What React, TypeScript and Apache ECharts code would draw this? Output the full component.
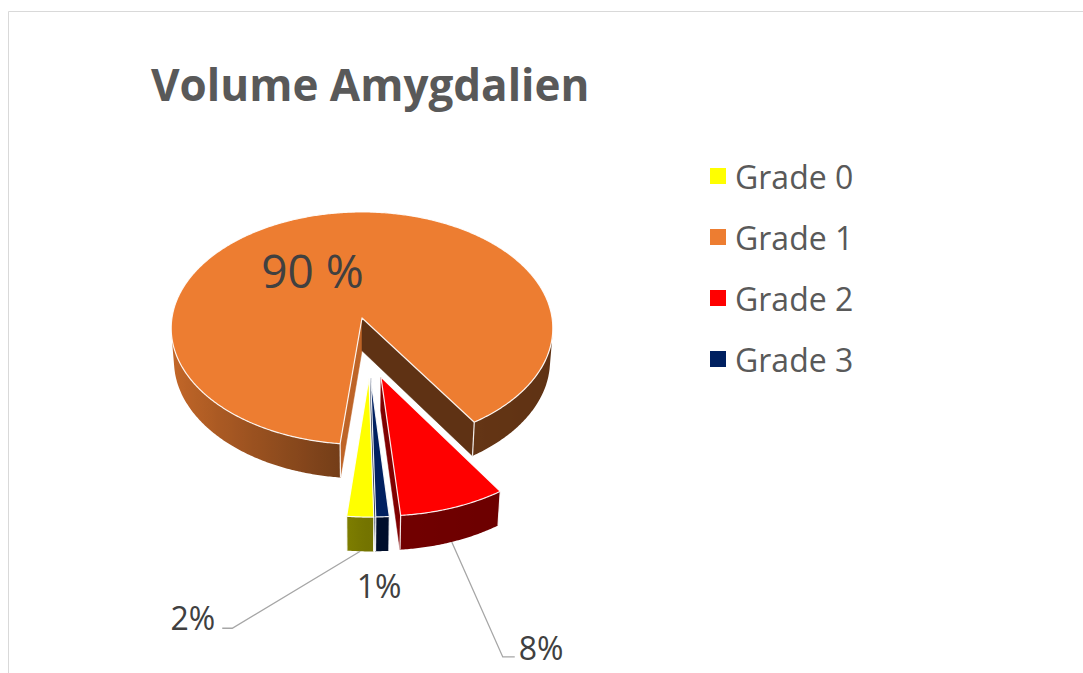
import React, { useEffect, useRef } from "react";
import * as echarts from "echarts";

// ---------- data ----------
const categories = ["Grade 0", "Grade 1", "Grade 2", "Grade 3"];
const values = [2, 90, 8, 1];
const valueLabels = ["2%", "90 %", "8%", "1%"];
const titleText = "Volume Amygdalien";

// ---------- style ----------
const topColors = ["#FFFF00", "#ED7D31", "#FF0000", "#002060"];
const drawOrder = [1, 2, 3, 0];

// 3-D view parameters (pie of unit radius, projected in perspective)
const CX = 362;
const CY = 318;
const FOCAL = 1722;
const DIST = 9.06;
const SIN_T = 0.607;
const COS_T = 0.795;
const THICK = 0.22;
const START_DEG = 88.9;
const explodeDist = [0.5, 0, 0.5, 0.5];
const explodeDirDeg = [86, 0, 79, 85];
const cutShade = [
  [0.5, 0.5],
  [0.8, 0.4],
  [0.5, 0.5],
  [0.5, 0.5],
];

type LabelCfg = {
  mode: "inside" | "outside";
  r?: number;
  deg?: number;
  dx?: number;
  dy?: number;
  align: string;
  size: number;
  leader?: number[][];
};
const labelCfg: LabelCfg[] = [
  { mode: "outside", dx: -145, dy: 66, align: "right", size: 32, leader: [[-128, 77], [-138, 77]] },
  { mode: "inside", r: 0.51, deg: 238, align: "center", size: 46 },
  { mode: "outside", dx: 67, dy: 106, align: "left", size: 32, leader: [[51, 115], [63, 115]] },
  { mode: "outside", dx: -3, dy: 34, align: "center", size: 32 },
];

const RAD = Math.PI / 180;

function proj(X: number, Y: number, Z: number): number[] {
  const z = DIST - (Z * COS_T + Y * SIN_T);
  return [CX + (FOCAL * X) / z, CY - (FOCAL * (Y * COS_T - Z * SIN_T)) / z];
}

function shade(hex: string, k: number): string {
  const n = parseInt(hex.slice(1), 16);
  const r = Math.min(255, Math.round(((n >> 16) & 255) * k));
  const g = Math.min(255, Math.round(((n >> 8) & 255) * k));
  const b = Math.min(255, Math.round((n & 255) * k));
  return `rgb(${r},${g},${b})`;
}

function wallShade(t: number): number {
  const c = Math.cos(t);
  return c < 0 ? 0.45 + 0.38 * -c : 0.45 - 0.05 * c;
}

function makeRenderItem(i: number) {
  return (_params: any, api: any) => {
    const total = values.reduce((s, v) => s + v, 0);
    const before = values.slice(0, i).reduce((s, v) => s + v, 0);
    const own = api.value(0) as number;
    const a0 = START_DEG + (360 * before) / total;
    const a1 = a0 + (360 * own) / total;
    const t0 = a0 * RAD;
    const t1 = a1 * RAD;
    const ed = explodeDirDeg[i] * RAD;
    const ox = explodeDist[i] * Math.cos(ed);
    const oz = explodeDist[i] * Math.sin(ed);
    const color = topColors[i];
    const rim = (t: number, Y: number) => proj(ox + Math.cos(t), Y, oz + Math.sin(t));
    const ctr = (Y: number) => proj(ox, Y, oz);
    const camDot = (nx: number, nz: number, px: number, pz: number) =>
      nx * (0 - px) + nz * (DIST * COS_T - pz);

    const children: any[] = [];
    const edge = "rgba(255,255,255,0.9)";

    // cut faces
    const faces = [
      { t: t0, nx: Math.sin(t0), nz: -Math.cos(t0), k: cutShade[i][0] },
      { t: t1, nx: -Math.sin(t1), nz: Math.cos(t1), k: cutShade[i][1] },
    ];
    faces.forEach((f) => {
      const px = ox + 0.5 * Math.cos(f.t);
      const pz = oz + 0.5 * Math.sin(f.t);
      if (camDot(f.nx, f.nz, px, pz) > 0) {
        children.push({
          type: "polygon",
          shape: { points: [ctr(0), rim(f.t, 0), rim(f.t, -THICK), ctr(-THICK)] },
          style: { fill: shade(color, f.k), stroke: shade(color, f.k), lineWidth: 0.5 },
        });
      }
    });

    // outer walls
    const n = Math.max(4, Math.ceil((a1 - a0) / 0.5));
    const ts: number[] = [];
    for (let k = 0; k <= n; k++) ts.push(t0 + ((t1 - t0) * k) / n);
    const vis = ts.map((t) => {
      const X = ox + Math.cos(t);
      const Z = oz + Math.sin(t);
      return -X * Math.cos(t) + (DIST * COS_T - Z) * Math.sin(t) > 0;
    });
    let k = 0;
    while (k <= n) {
      if (!vis[k]) {
        k++;
        continue;
      }
      let j = k;
      while (j + 1 <= n && vis[j + 1]) j++;
      if (j > k) {
        const run = ts.slice(k, j + 1);
        const topPts = run.map((t) => rim(t, 0));
        const botPts = run.map((t) => rim(t, -THICK)).reverse();
        const xs = topPts.map((p) => p[0]);
        const minX = Math.min(...xs);
        const maxX = Math.max(...xs);
        let fill: any;
        if (maxX - minX < 2) {
          fill = shade(color, wallShade(run[0]));
        } else {
          const stops = run
            .filter((_, m) => m % 4 === 0 || m === run.length - 1)
            .map((t) => ({
              offset: (rim(t, 0)[0] - minX) / (maxX - minX),
              color: shade(color, wallShade(t)),
            }))
            .sort((p, q) => p.offset - q.offset);
          fill = new echarts.graphic.LinearGradient(0, 0, 1, 0, stops);
        }
        children.push({
          type: "polygon",
          shape: { points: topPts.concat(botPts) },
          style: { fill, stroke: null },
        });
        const edges: number[] = [];
        if (k === 0) edges.push(ts[0]);
        if (j === n) edges.push(ts[n]);
        edges.forEach((t) => {
          const p = rim(t, 0);
          const q = rim(t, -THICK);
          children.push({
            type: "line",
            shape: { x1: p[0], y1: p[1], x2: q[0], y2: q[1] },
            style: { stroke: edge, lineWidth: 1.2 },
          });
        });
      }
      k = j + 1;
    }

    // top face
    const topFace = [ctr(0)].concat(ts.map((t) => rim(t, 0)));
    children.push({
      type: "polygon",
      shape: { points: topFace },
      style: { fill: color, stroke: edge, lineWidth: 1.2, lineJoin: "round" },
    });

    // label
    const lc = labelCfg[i];
    let lx = 0;
    let ly = 0;
    if (lc.mode === "inside") {
      const p = proj(ox + lc.r! * Math.cos(lc.deg! * RAD), 0, oz + lc.r! * Math.sin(lc.deg! * RAD));
      lx = p[0];
      ly = p[1];
    } else {
      const mid = (t0 + t1) / 2;
      const anchor = rim(mid, -THICK);
      lx = anchor[0] + lc.dx!;
      ly = anchor[1] + lc.dy!;
      if (lc.leader) {
        const pts = [anchor].concat(lc.leader.map((d) => [anchor[0] + d[0], anchor[1] + d[1]]));
        children.push({
          type: "polyline",
          shape: { points: pts },
          style: { stroke: "#A6A6A6", lineWidth: 1.3, fill: null },
        });
      }
    }
    children.push({
      type: "text",
      style: {
        legacy: false,
        text: valueLabels[i],
        x: lx,
        y: ly,
        fill: "#404040",
        font: `${lc.size}px "Open Sans"`,
        align: lc.align,
        verticalAlign: "middle",
      },
    });

    return { type: "group", children };
  };
}

export default function App() {
  const ref = useRef<HTMLDivElement>(null);
  useEffect(() => {
    if (!ref.current) return;
    const chart = echarts.init(ref.current, undefined, { renderer: "svg" });
    const option: any = {
      animation: false,
      backgroundColor: "#FFFFFF",
      title: {
        text: titleText,
        left: 146,
        top: 57,
        textStyle: {
          fontFamily: '"Open Sans"',
          fontWeight: "bold",
          fontSize: 44,
          color: "#595959",
        },
      },
      legend: {
        data: categories,
        orient: "vertical",
        left: 705,
        top: 155,
        icon: "rect",
        itemWidth: 16,
        itemHeight: 16,
        itemGap: 29,
        selectedMode: false,
        textStyle: {
          fontFamily: '"Open Sans"',
          fontSize: 32,
          lineHeight: 32,
          color: "#595959",
          padding: [0, 0, 0, 4],
        },
      },
      graphic: [
        {
          type: "rect",
          silent: true,
          z: -1,
          shape: { x: 8.5, y: 11.5, width: 1200, height: 900 },
          style: { fill: "none", stroke: "#D9D9D9", lineWidth: 1 },
        },
      ],
      series: drawOrder.map((i, idx) => ({
        type: "custom",
        name: categories[i],
        coordinateSystem: "none",
        data: [values[i]],
        itemStyle: { color: topColors[i] },
        z: 2 + idx,
        renderItem: makeRenderItem(i),
      })),
    };
    chart.setOption(option);
    return () => chart.dispose();
  }, []);
  return (
    <div
      ref={ref}
      style={{ position: "absolute", left: 0, top: 0, width: 1083, height: 673 }}
    />
  );
}
